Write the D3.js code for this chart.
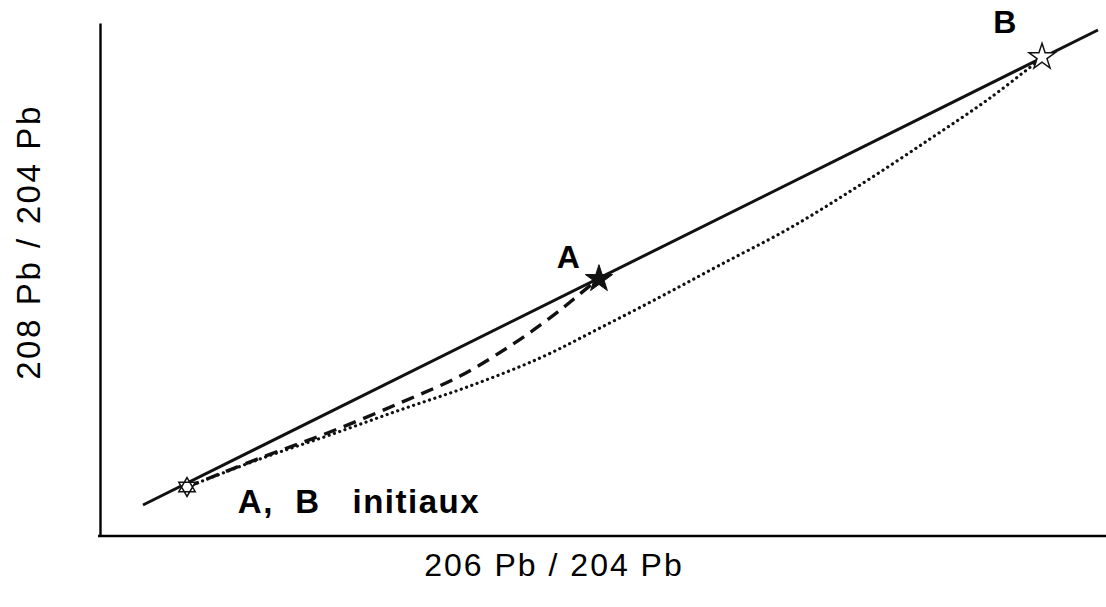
<!DOCTYPE html>
<html>
<head>
<meta charset="utf-8">
<script src="https://cdn.jsdelivr.net/npm/d3@7"></script>
<style>
  body { margin: 0; background: #fff; }
  svg { display: block; }
</style>
</head>
<body>
<svg id="vis" width="1106" height="607"></svg>
<script>
/**
 * Data (arbitrary isotopic units, 0..100 on both axes)
 */
var mixingLine = [[4.27, 6.04], [99.2, 98.64]];       // straight line through the three points
var pathA = [[8.65, 9.55], [15.9, 15.2], [22.86, 20.27], [29.82, 25.93], [35.79, 31.19],
             [40.76, 37.04], [44.73, 42.5], [47.22, 46.39], [49.5, 50.1]];
var pathB = [[8.65, 9.55], [15.9, 15.01], [22.86, 19.69], [29.82, 24.56], [36.78, 29.24],
             [43.74, 34.7], [49.7, 40.55], [55.67, 46.59], [61.63, 52.83], [68.59, 60.04],
             [75.55, 68.42], [82.5, 77.39], [88.47, 85.38], [93.74, 93.37]];
var points = [
    { name: "init", x: 8.65, y: 9.55 },
    { name: "A", x: 49.6, y: 50.1 },
    { name: "B", x: 93.64, y: 93.37 }
];
var labels = [
    { text: "A", x: 45.4, y: 52.2 },
    { text: "B", x: 88.8, y: 98.05 },
    { text: "A,  B   initiaux", x: 13.7, y: 4.5 }
];
var xTitle = "206 Pb / 204 Pb";
var yTitle = "208 Pb / 204 Pb";

const MARGINS = { top: 23, right: 0, bottom: 71, left: 100 };
var width = 1106, height = 607;

var svg = d3.select("#vis");

var x = d3.scaleLinear().domain([0, 100]).range([MARGINS.left, width - MARGINS.right]);
var y = d3.scaleLinear().domain([0, 100]).range([height - MARGINS.bottom, MARGINS.top]);

//axes: plain lines, no ticks
var xAxis = d3.axisBottom(x).tickValues([]).tickSizeOuter(0);
var yAxis = d3.axisLeft(y).tickValues([]).tickSizeOuter(0);
svg.append("g").attr("transform", `translate(0, ${y(0)})`).call(xAxis)
    .select(".domain").attr("stroke-width", 2.4).attr("d", `M${x(0) - 2},0H${x(100)}`);
svg.append("g").attr("transform", `translate(${x(0)}, 0)`).call(yAxis)
    .select(".domain").attr("stroke-width", 2.4);

var line = d3.line().x(d => x(d[0])).y(d => y(d[1]));
var curve = d3.line().x(d => x(d[0])).y(d => y(d[1])).curve(d3.curveCatmullRom.alpha(0.5));

svg.append("path").datum(mixingLine).attr("d", line)
    .attr("fill", "none").attr("stroke", "#111").attr("stroke-width", 3);

svg.append("path").datum(pathB).attr("d", curve)
    .attr("fill", "none").attr("stroke", "#111").attr("stroke-width", 3.2)
    .attr("stroke-linecap", "round").attr("stroke-dasharray", "0.1 5.5");

svg.append("path").datum(pathA).attr("d", curve)
    .attr("fill", "none").attr("stroke", "#111").attr("stroke-width", 3.4)
    .attr("stroke-dasharray", "13 8");

//hexagram symbol for the initial point
var hexagram = {
    draw: function(ctx, size) {
        var r = Math.sqrt(size) / 1.6;
        for (var k = 0; k < 2; k++) {
            for (var i = 0; i < 3; i++) {
                var a = (k * 60 + i * 120 - 90) * Math.PI / 180;
                if (i === 0) ctx.moveTo(r * Math.cos(a), r * Math.sin(a));
                else ctx.lineTo(r * Math.cos(a), r * Math.sin(a));
            }
            ctx.closePath();
        }
    }
};

svg.selectAll("path.marker")
    .data(points)
    .enter()
    .append("path")
    .attr("class", "marker")
    .attr("transform", d => `translate(${x(d.x)}, ${y(d.y)})`)
    .attr("d", function(d){
        if (d.name === "init") return d3.symbol(hexagram, 230)();
        return d3.symbol(d3.symbolStar, d.name === "A" ? 230 : 210)();
    })
    .attr("fill", d => d.name === "A" ? "#111" : "#fff")
    .attr("stroke", "#111")
    .attr("stroke-width", d => d.name === "A" ? 1 : 1.5)
    .attr("stroke-linejoin", "miter");

svg.selectAll("text.lab")
    .data(labels)
    .enter()
    .append("text")
    .attr("class", "lab")
    .attr("x", d => x(d.x))
    .attr("y", d => y(d.y))
    .attr("font-family", "Liberation Sans, Arial, sans-serif")
    .attr("font-weight", "bold")
    .attr("font-size", d => d.text.length > 2 ? 33 : 32)
    .attr("letter-spacing", d => d.text.length > 2 ? 1.5 : 0)
    .style("white-space", "pre")
    .text(d => d.text);

//axis titles
svg.append("text")
    .attr("x", 554)
    .attr("y", 576)
    .attr("text-anchor", "middle")
    .attr("font-family", "Liberation Sans, Arial, sans-serif")
    .attr("font-size", 32)
    .attr("letter-spacing", 2)
    .text(xTitle);

svg.append("text")
    .attr("transform", "translate(40, 242) rotate(-90)")
    .attr("text-anchor", "middle")
    .attr("font-family", "Liberation Sans, Arial, sans-serif")
    .attr("font-size", 33)
    .attr("letter-spacing", 2.6)
    .text(yTitle);
</script>
</body>
</html>
